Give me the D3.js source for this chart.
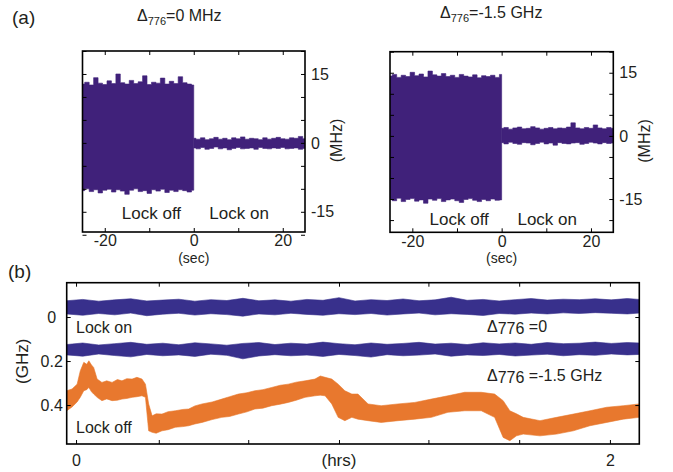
<!DOCTYPE html>
<html>
<head>
<meta charset="utf-8">
<script src="https://cdn.jsdelivr.net/npm/d3@7"></script>
<style>
  html, body { margin: 0; padding: 0; background: #fff; }
  svg text { font-family: "Liberation Sans", Arial, Helvetica, sans-serif; fill: #231f20; }
</style>
</head>
<body>
<svg id="fig" width="673" height="472"></svg>
<script>
// ---------- Panel (a): beat-note frequency, lock off (t<0) / lock on (t>0) ----------
const secOff = [-25,-24,-23,-22,-21,-20,-19,-18,-17,-16,-15,-14,-13,-12,-11,-10,-9,-8,-7,-6,-5,-4,-3,-2,-1,0];
const secOn  = [0,1,2,3,4,5,6,7,8,9,10,11,12,13,14,15,16,17,18,19,20,21,22,23,24,25];

// Δ776 = 0 MHz (MHz envelopes of the trace)
const zeroOffHi = [12.8,13.2,12.6,14.2,13.0,12.7,13.5,12.9,15.0,13.1,12.8,13.6,12.9,13.3,14.6,12.7,13.2,13.0,14.1,12.8,13.4,12.9,14.4,13.1,12.8,12.6];
const zeroOffLo = [-10.4,-10.0,-10.6,-10.2,-10.9,-10.3,-10.1,-10.7,-10.2,-10.5,-11.2,-10.3,-10.0,-10.6,-10.4,-11.0,-10.2,-10.5,-10.1,-10.8,-10.3,-10.6,-10.2,-10.4,-10.7,-10.3];
const zeroOnHi  = [1.0,0.8,1.1,0.7,0.9,1.2,0.8,1.0,0.7,1.1,0.9,1.3,0.8,1.0,0.9,0.7,1.1,0.8,1.0,1.2,0.9,0.8,1.1,1.0,1.4,0.9];
const zeroOnLo  = [-1.1,-1.3,-1.0,-1.4,-1.2,-0.9,-1.3,-1.1,-1.5,-1.2,-1.0,-1.3,-1.2,-1.1,-1.4,-1.0,-1.2,-1.3,-1.1,-1.2,-1.0,-1.3,-1.2,-1.1,-1.4,-1.2];

// Δ776 = -1.5 GHz
const detOffHi = [14.2,14.6,13.9,14.4,14.1,15.1,14.3,14.7,14.0,15.4,14.5,14.2,14.8,14.1,14.4,13.9,14.6,14.2,14.0,14.5,13.8,14.3,14.1,14.4,13.9,14.6];
const detOffLo = [-15.0,-15.4,-14.8,-15.6,-15.1,-14.9,-15.5,-15.2,-16.0,-15.0,-15.3,-14.9,-15.6,-15.2,-15.0,-15.4,-15.8,-15.1,-14.9,-15.3,-15.6,-15.1,-15.4,-15.0,-15.3,-15.2];
const detOnHi  = [1.8,2.0,1.6,1.9,2.1,1.7,1.8,2.2,1.9,1.6,1.8,2.0,1.7,1.9,1.8,2.1,3.1,1.9,1.7,2.0,1.8,2.6,1.9,1.7,2.0,1.8];
const detOnLo  = [-1.6,-1.9,-1.5,-1.8,-2.0,-1.6,-1.7,-2.1,-1.8,-1.5,-1.9,-1.7,-2.2,-1.6,-1.8,-1.9,-1.7,-1.6,-2.0,-1.8,-1.5,-1.7,-1.9,-1.6,-1.8,-1.7];

const secTicks = [-20,-10,0,10,20];
const secLabels = [-20,0,20];
const mhzTicks = [-20,-15,-10,-5,0,5,10,15,20];
const mhzLabels = [-15,0,15];

// ---------- Panel (b): long-term drift (GHz) over hours ----------
const hrsBlue = [-0.035,0.025,0.085,0.145,0.205,0.265,0.325,0.385,0.445,0.505,0.565,0.625,0.685,0.745,0.805,0.865,0.925,0.985,1.045,1.105,1.165,1.225,1.285,1.345,1.405,1.465,1.525,1.585,1.645,1.705,1.765,1.825,1.885,1.945,2.005,2.065,2.11];
const lockOnZeroHi = [-0.074,-0.080,-0.072,-0.078,-0.083,-0.073,-0.077,-0.081,-0.072,-0.079,-0.075,-0.085,-0.074,-0.078,-0.072,-0.080,-0.076,-0.088,-0.073,-0.079,-0.075,-0.082,-0.074,-0.078,-0.090,-0.076,-0.080,-0.073,-0.079,-0.084,-0.077,-0.081,-0.079,-0.083,-0.078,-0.084,-0.080];
const lockOnZeroLo = [-0.014,-0.008,-0.016,-0.010,-0.018,-0.006,-0.013,-0.017,-0.009,-0.015,-0.011,-0.004,-0.014,-0.010,-0.017,-0.012,-0.008,-0.015,-0.011,-0.016,-0.009,-0.014,-0.018,-0.010,-0.015,-0.012,-0.007,-0.016,-0.013,-0.018,-0.014,-0.019,-0.016,-0.020,-0.017,-0.014,-0.018];
const lockOnDetHi = [0.125,0.118,0.127,0.121,0.115,0.124,0.119,0.126,0.117,0.122,0.128,0.120,0.116,0.125,0.119,0.123,0.114,0.121,0.126,0.118,0.124,0.120,0.115,0.123,0.119,0.125,0.117,0.122,0.118,0.124,0.116,0.121,0.119,0.114,0.120,0.116,0.118];
const lockOnDetLo = [0.172,0.178,0.168,0.175,0.181,0.170,0.176,0.172,0.179,0.169,0.174,0.190,0.177,0.171,0.176,0.173,0.179,0.170,0.175,0.182,0.171,0.176,0.173,0.168,0.178,0.172,0.175,0.170,0.177,0.173,0.169,0.176,0.171,0.174,0.168,0.172,0.170];

const hrsOrange = [-0.035,-0.015,0.004,0.016,0.029,0.040,0.048,0.058,0.066,0.079,0.097,0.115,0.135,0.155,0.172,0.190,0.210,0.228,0.247,0.260,0.272,0.285,0.300,0.322,0.345,0.372,0.400,0.422,0.445,0.472,0.510,0.546,0.575,0.608,0.640,0.670,0.700,0.733,0.765,0.795,0.825,0.858,0.895,0.915,0.933,0.958,0.982,1.007,1.033,1.056,1.094,1.143,1.206,1.269,1.331,1.393,1.456,1.518,1.568,1.600,1.625,1.650,1.675,1.738,1.800,1.863,1.925,1.988,2.050,2.110];
const lockOffHi = [0.335,0.327,0.305,0.244,0.206,0.215,0.199,0.218,0.229,0.282,0.297,0.290,0.297,0.284,0.290,0.280,0.282,0.274,0.282,0.305,0.395,0.449,0.440,0.441,0.430,0.426,0.420,0.418,0.404,0.395,0.386,0.373,0.362,0.350,0.344,0.335,0.330,0.320,0.310,0.305,0.296,0.290,0.282,0.268,0.274,0.282,0.305,0.335,0.350,0.350,0.395,0.403,0.395,0.388,0.373,0.358,0.342,0.342,0.350,0.380,0.426,0.440,0.456,0.471,0.456,0.441,0.426,0.410,0.403,0.395];
const lockOffLo = [0.426,0.409,0.386,0.364,0.335,0.330,0.320,0.340,0.350,0.365,0.380,0.372,0.380,0.378,0.373,0.370,0.365,0.362,0.358,0.365,0.517,0.524,0.528,0.517,0.512,0.501,0.498,0.494,0.486,0.479,0.466,0.456,0.452,0.441,0.431,0.418,0.414,0.403,0.396,0.388,0.378,0.365,0.358,0.355,0.358,0.395,0.456,0.471,0.456,0.464,0.471,0.479,0.471,0.464,0.456,0.433,0.426,0.426,0.456,0.547,0.562,0.540,0.532,0.540,0.532,0.517,0.494,0.479,0.464,0.456];

const hrsTicks = [0,0.31,0.645,0.985,1.32,1.66,2];
const hrsLabels = [0,2];
const ghzTicks = [0,0.2,0.4];

// ---------- drawing ----------
const svg = d3.select("#fig");
const PURPLE = "#40217a", BLUE = "#38308c", ORANGE = "#e8782e";
const TICK = 4;

function zip(t, hi, lo) { return t.map((v, i) => ({ t: v, hi: hi[i], lo: lo[i] })); }

// noisy trace drawn as its filled min/max envelope
function band(g, x, y, rows, color, curve) {
  g.append("path")
    .datum(rows)
    .attr("fill", color)
    .attr("stroke", color)
    .attr("stroke-width", 0.6)
    .attr("d", d3.area().curve(curve || d3.curveStep)
      .x(d => x(d.t)).y0(d => y(d.lo)).y1(d => y(d.hi)));
}

function styleAxis(sel) {
  sel.select(".domain").remove();
  sel.selectAll(".tick line").attr("stroke", "#000").attr("stroke-width", 1);
  sel.selectAll("text").attr("font-size", 16).attr("fill", "#231f20")
     .style("font-family", '"Liberation Sans", Arial, sans-serif');
}

function frame(g, x0, y0, x1, y1) {
  g.append("rect").attr("x", x0).attr("y", y0).attr("width", x1 - x0).attr("height", y1 - y0)
    .attr("fill", "none").attr("stroke", "#000").attr("stroke-width", 1.6);
}

let clipId = 0;
function clipTo(g, x0, y0, x1, y1) {
  const id = "clip" + (clipId++);
  svg.append("defs").append("clipPath").attr("id", id)
    .append("rect").attr("x", x0).attr("y", y0).attr("width", x1 - x0).attr("height", y1 - y0);
  return g.append("g").attr("clip-path", `url(#${id})`);
}

function panelA(box, yDomain, off, on, title, labelY) {
  const [x0, y0, x1, y1] = box;
  const x = d3.scaleLinear().domain([-25, 25]).range([x0, x1]);
  const y = d3.scaleLinear().domain(yDomain).range([y1, y0]);
  const g = svg.append("g");
  const plot = clipTo(g, x0, y0, x1, y1);
  band(plot, x, y, off, PURPLE);
  band(plot, x, y, on, PURPLE);

  const fmtX = d => secLabels.includes(d) ? String(d) : "";
  const fmtY = d => mhzLabels.includes(d) ? String(d) : "";
  g.append("g").attr("transform", `translate(0,${y1})`)
    .call(d3.axisBottom(x).tickValues(secTicks).tickSizeInner(-TICK).tickSizeOuter(0).tickPadding(3).tickFormat(fmtX))
    .call(styleAxis);
  g.append("g").attr("transform", `translate(0,${y0})`)
    .call(d3.axisTop(x).tickValues(secTicks).tickSizeInner(-TICK).tickSizeOuter(0).tickFormat(""))
    .call(styleAxis);
  g.append("g").attr("transform", `translate(${x0},0)`)
    .call(d3.axisLeft(y).tickValues(mhzTicks).tickSizeInner(-TICK).tickSizeOuter(0).tickFormat(""))
    .call(styleAxis);
  g.append("g").attr("transform", `translate(${x1},0)`)
    .call(d3.axisRight(y).tickValues(mhzTicks).tickSizeInner(-TICK).tickSizeOuter(0).tickPadding(6).tickFormat(fmtY))
    .call(styleAxis);
  frame(g, x0, y0, x1, y1);

  // region labels
  g.append("text").attr("x", x(-9.5)).attr("y", labelY).attr("text-anchor", "middle")
    .attr("font-size", 17).text("Lock off");
  g.append("text").attr("x", x(10.2)).attr("y", labelY).attr("text-anchor", "middle")
    .attr("font-size", 17).text("Lock on");
  // x axis unit
  g.append("text").attr("x", x(0)).attr("y", y1 + 31).attr("text-anchor", "middle")
    .attr("font-size", 14).text("(sec)");
  // right axis unit
  const cy = (y0 + y1) / 2 - 1;
  g.append("text").attr("transform", `translate(${x1 + 37},${cy}) rotate(-90)`)
    .attr("text-anchor", "middle").attr("font-size", 16).text("(MHz)");
  // title with subscript
  const t = g.append("text").attr("x", title.x).attr("y", title.y).attr("font-size", 16);
  t.append("tspan").text("Δ");
  t.append("tspan").attr("font-size", 11).attr("dy", 4).text("776");
  t.append("tspan").attr("dy", -4).text(title.rest);
}

panelA([82.5, 51, 305, 232], [-19.4, 20],
  zip(secOff, zeroOffHi, zeroOffLo), zip(secOn, zeroOnHi, zeroOnLo),
  { x: 137, y: 21, rest: "=0 MHz" }, 219);
panelA([390, 51.7, 613.3, 232.3], [-22.9, 20],
  zip(secOff, detOffHi, detOffLo), zip(secOn, detOnHi, detOnLo),
  { x: 440, y: 18, rest: "=-1.5 GHz" }, 225);

// panel letters
svg.append("text").attr("x", 12).attr("y", 24).attr("font-size", 19).text("(a)");
svg.append("text").attr("x", 8).attr("y", 278).attr("font-size", 19).text("(b)");

// ---------- Panel (b) ----------
(function () {
  const x0 = 66.7, y0 = 282.7, x1 = 639.3, y1 = 444;
  const x = d3.scaleLinear().domain([-0.035, 2.11]).range([x0, x1]);
  const y = d3.scaleLinear().domain([-0.156, 0.577]).range([y0, y1]);
  const g = svg.append("g");
  const plot = clipTo(g, x0, y0, x1, y1);
  band(plot, x, y, zip(hrsBlue, lockOnZeroHi, lockOnZeroLo), BLUE, d3.curveLinear);
  band(plot, x, y, zip(hrsBlue, lockOnDetHi, lockOnDetLo), BLUE, d3.curveLinear);
  band(plot, x, y, zip(hrsOrange, lockOffHi, lockOffLo), ORANGE, d3.curveLinear);

  const fmtX = d => hrsLabels.includes(d) ? String(d) : "";
  g.append("g").attr("transform", `translate(0,${y1})`)
    .call(d3.axisBottom(x).tickValues(hrsTicks).tickSizeInner(-TICK).tickSizeOuter(0).tickPadding(11).tickFormat(fmtX))
    .call(styleAxis);
  g.append("g").attr("transform", `translate(0,${y0})`)
    .call(d3.axisTop(x).tickValues(hrsTicks).tickSizeInner(-TICK).tickSizeOuter(0).tickFormat(""))
    .call(styleAxis);
  const left = g.append("g").attr("transform", `translate(${x0},0)`)
    .call(d3.axisLeft(y).tickValues(ghzTicks).tickSizeInner(-TICK).tickSizeOuter(0).tickFormat(d => String(d)))
    .call(styleAxis);
  left.selectAll("text").attr("text-anchor", "middle").attr("x", -15);
  g.append("g").attr("transform", `translate(${x1},0)`)
    .call(d3.axisRight(y).tickValues(ghzTicks).tickSizeInner(-TICK).tickSizeOuter(0).tickFormat(""))
    .call(styleAxis);
  frame(g, x0, y0, x1, y1);

  g.append("text").attr("transform", `translate(28,${(y0 + y1) / 2 - 2}) rotate(-90)`)
    .attr("text-anchor", "middle").attr("font-size", 17).text("(GHz)");
  g.append("text").attr("x", x(0.985)).attr("y", 466).attr("text-anchor", "middle")
    .attr("font-size", 17).text("(hrs)");

  g.append("text").attr("x", 76).attr("y", 333).attr("font-size", 16).text("Lock on");
  g.append("text").attr("x", 76).attr("y", 433).attr("font-size", 16).text("Lock off");

  const a = g.append("text").attr("x", 487).attr("y", 332).attr("font-size", 16);
  a.append("tspan").text("Δ");
  a.append("tspan").attr("dy", 2).text("776");
  a.append("tspan").attr("dy", -2).text(" =0");
  const b = g.append("text").attr("x", 487).attr("y", 381).attr("font-size", 16);
  b.append("tspan").text("Δ");
  b.append("tspan").attr("dy", 2).text("776");
  b.append("tspan").attr("dy", -2).text(" =-1.5 GHz");
})();
</script>
</body>
</html>
